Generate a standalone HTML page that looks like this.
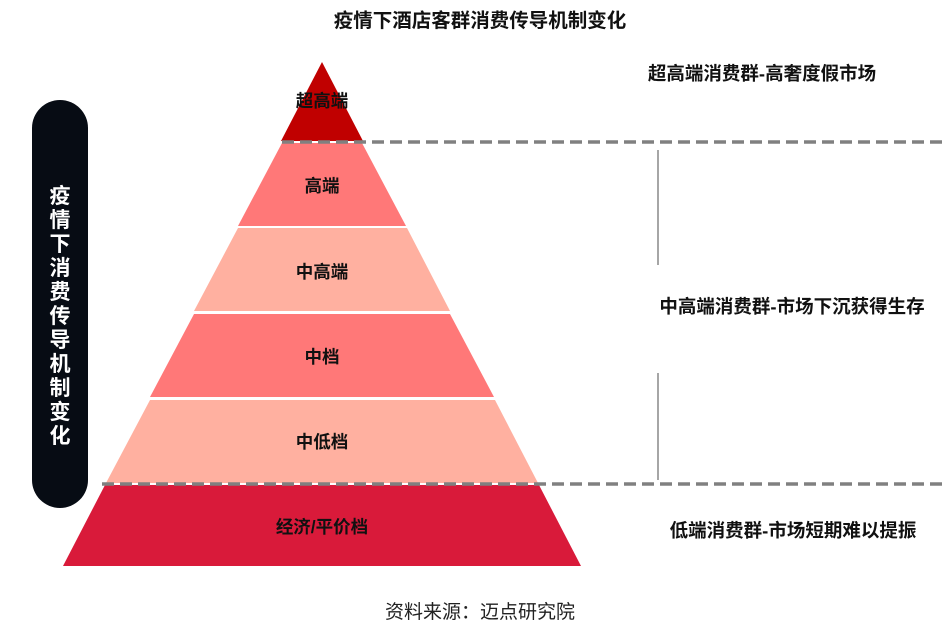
<!DOCTYPE html>
<html><head><meta charset="utf-8"><style>
body{margin:0;background:#fff;width:946px;height:634px;overflow:hidden;font-family:"Liberation Sans","Noto Sans CJK SC",sans-serif;}
</style></head><body>
<svg width="946" height="634" viewBox="0 0 946 634" xmlns="http://www.w3.org/2000/svg" style="font-family:'Liberation Sans','Noto Sans CJK SC',sans-serif">
<text x="480" y="27" text-anchor="middle" font-size="19.5" font-weight="bold" fill="#111">疫情下酒店客群消费传导机制变化</text>
<rect x="32" y="100" width="56" height="408" rx="28" fill="#070c14"/>
<g font-size="21" font-weight="bold" fill="#fff" text-anchor="middle">
<text x="60" y="203">疫</text><text x="60" y="227">情</text><text x="60" y="251">下</text><text x="60" y="275">消</text><text x="60" y="299">费</text><text x="60" y="323">传</text><text x="60" y="347">导</text><text x="60" y="371">机</text><text x="60" y="395">制</text><text x="60" y="419">变</text><text x="60" y="443">化</text>
</g>
<polygon points="322,62 363,141 281,141" fill="#c00000"/>
<polygon points="282,143 362,143 406,226 238,226" fill="#ff7878"/>
<polygon points="238,228 407,228 450,311 194,311" fill="#ffb0a0"/>
<polygon points="194,314 450,314 494,397 150,397" fill="#ff7878"/>
<polygon points="150,400 495,400 538,483 106,483" fill="#ffb0a0"/>
<polygon points="105,485 539,485 581,566 63,566" fill="#d91a3a"/>
<line x1="282" y1="142" x2="942" y2="142" stroke="#808080" stroke-width="3.5" stroke-dasharray="12,6"/>
<line x1="102" y1="484" x2="942" y2="484" stroke="#808080" stroke-width="3.5" stroke-dasharray="12,6"/>
<line x1="658" y1="150" x2="658" y2="265" stroke="#888" stroke-width="1.5"/>
<line x1="658" y1="373" x2="658" y2="480" stroke="#888" stroke-width="1.5"/>
<g font-size="17.5" font-weight="bold" fill="#111" text-anchor="middle">
<text x="322" y="107">超高端</text>
<text x="322" y="192">高端</text>
<text x="322" y="278">中高端</text>
<text x="322" y="363">中档</text>
<text x="322" y="448">中低档</text>
<text x="322" y="533">经济/平价档</text>
</g>
<g font-size="18.5" font-weight="bold" fill="#111" text-anchor="middle">
<text x="762" y="80">超高端消费群-高奢度假市场</text>
<text x="792" y="313">中高端消费群-市场下沉获得生存</text>
<text x="793" y="537">低端消费群-市场短期难以提振</text>
</g>
<text x="480" y="618" text-anchor="middle" font-size="19" fill="#222">资料来源：迈点研究院</text>
</svg>
</body></html>
